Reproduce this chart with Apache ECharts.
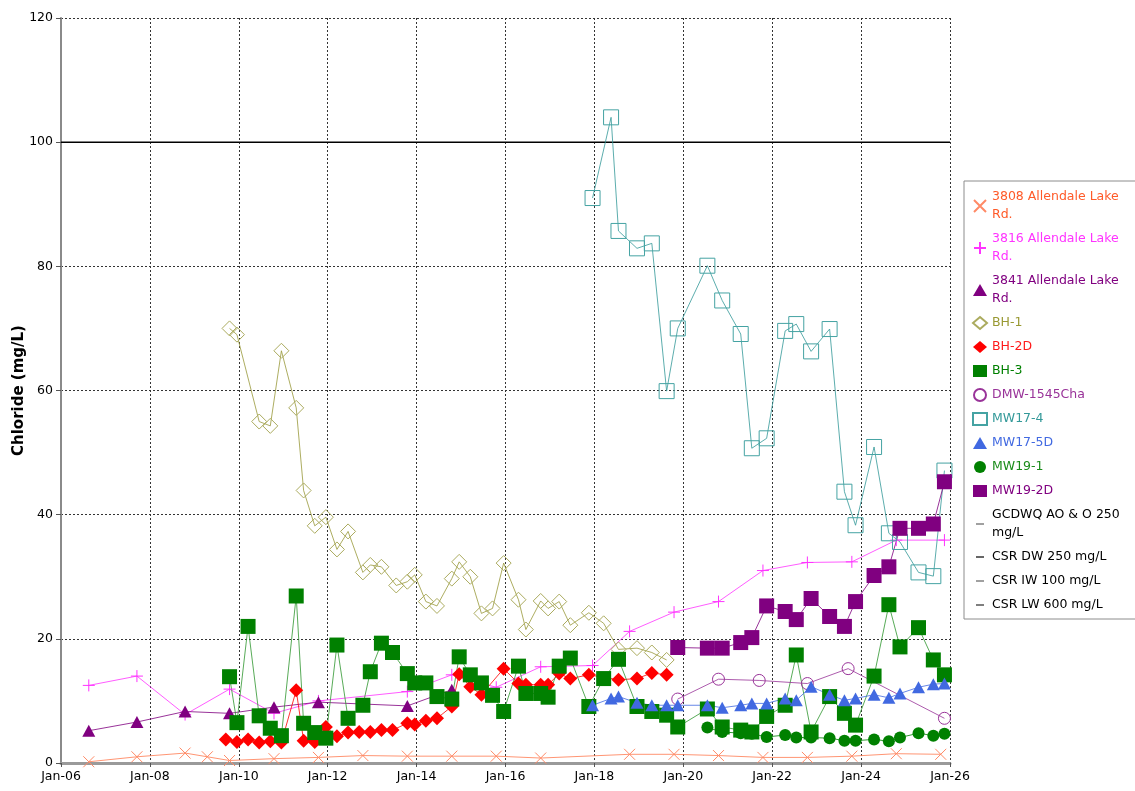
<!DOCTYPE html>
<html>
<head>
<meta charset="utf-8">
<script src="https://cdn.jsdelivr.net/npm/echarts@6/dist/echarts.min.js"></script>
<style>
  html, body { margin: 0; padding: 0; background: #fff; }
  #chart { width: 1135px; height: 791px; }
</style>
</head>
<body>
<div id="chart"></div>
<script>
// ---- Sampling dates (YYYY-MM) and chloride results (mg/L) per monitoring location ----
const dates3808 = ['2006-08','2007-09','2008-10','2009-04','2009-10','2010-10','2011-10','2012-10','2013-10','2014-10','2015-10','2016-10','2018-10','2019-10','2020-10','2021-10','2022-10','2023-10','2024-10','2025-10'];
const cl3808    = [0.2, 1.0, 1.6, 1.0, 0.4, 0.7, 0.9, 1.2, 1.1, 1.1, 1.1, 0.8, 1.4, 1.4, 1.2, 0.9, 0.9, 1.1, 1.5, 1.4];

const dates3816 = ['2006-08','2007-09','2008-10','2009-10','2010-10','2011-10','2013-10','2014-10','2015-10','2016-10','2017-12','2018-10','2019-10','2020-10','2021-10','2022-10','2023-10','2024-10','2025-11'];
const cl3816    = [12.5, 14.0, 7.8, 11.9, 8.0, 10.0, 11.5, 14.2, 12.2, 15.5, 15.7, 21.2, 24.3, 26.0, 31.0, 32.3, 32.4, 35.9, 35.9];

const dates3841 = ['2006-08','2007-09','2008-10','2009-10','2010-10','2011-10','2013-10','2014-10'];
const cl3841    = [5.2, 6.6, 8.3, 8.0, 9.0, 9.8, 9.2, 11.8];

const datesBH1 = ['2009-10','2009-12','2010-06','2010-09','2010-12','2011-04','2011-06','2011-09','2011-12','2012-03','2012-06','2012-10','2012-12','2013-03','2013-07','2013-10','2013-12','2014-03','2014-06','2014-10','2014-12','2015-03','2015-06','2015-09','2015-12','2016-04','2016-06','2016-10','2016-12','2017-03','2017-06','2017-11','2018-03','2018-07','2018-12','2019-04','2019-08'];
const clBH1    = [70.0, 69.0, 55.0, 54.3, 66.4, 57.2, 43.9, 38.2, 39.6, 34.4, 37.3, 30.7, 31.9, 31.6, 28.6, 29.2, 30.3, 26.0, 25.3, 29.7, 32.4, 30.0, 24.1, 24.9, 32.2, 26.3, 21.5, 26.1, 24.9, 26.0, 22.2, 24.2, 22.5, 18.3, 18.5, 17.8, 16.6];

const datesBH2D = ['2009-09','2009-12','2010-03','2010-06','2010-09','2010-12','2011-04','2011-06','2011-09','2011-12','2012-03','2012-06','2012-09','2012-12','2013-03','2013-06','2013-10','2013-12','2014-03','2014-06','2014-10','2014-12','2015-03','2015-06','2015-12','2016-04','2016-06','2016-10','2016-12','2017-03','2017-06','2017-11','2018-07','2018-12','2019-04','2019-08'];
const clBH2D    = [3.8, 3.4, 3.8, 3.3, 3.5, 3.3, 11.7, 3.6, 3.4, 5.8, 4.3, 4.9, 5.0, 5.0, 5.3, 5.3, 6.4, 6.2, 6.8, 7.2, 9.1, 14.3, 12.3, 11.0, 15.2, 12.8, 12.6, 12.6, 12.6, 14.4, 13.6, 14.2, 13.4, 13.6, 14.5, 14.2];

const datesBH3 = ['2009-10','2009-12','2010-03','2010-06','2010-09','2010-12','2011-04','2011-06','2011-09','2011-12','2012-03','2012-06','2012-10','2012-12','2013-03','2013-06','2013-10','2013-12','2014-03','2014-06','2014-10','2014-12','2015-03','2015-06','2015-09','2015-12','2016-04','2016-06','2016-10','2016-12','2017-03','2017-06','2017-11','2018-03','2018-07','2018-12','2019-04','2019-08','2019-11','2020-07','2020-11','2021-04','2021-07','2021-11','2022-04','2022-07','2022-11','2023-04','2023-08','2023-11','2024-04','2024-08','2024-11','2025-04','2025-08','2025-11'];
const clBH3    = [13.9, 6.5, 22.0, 7.6, 5.6, 4.4, 26.9, 6.4, 4.9, 4.0, 19.0, 7.2, 9.3, 14.7, 19.3, 17.8, 14.4, 12.9, 12.9, 10.7, 10.3, 17.1, 14.2, 12.9, 10.9, 8.3, 15.6, 11.2, 11.2, 10.6, 15.6, 16.9, 9.1, 13.6, 16.7, 9.1, 8.3, 7.7, 5.8, 8.7, 5.8, 5.3, 5.0, 7.5, 9.3, 17.4, 5.0, 10.7, 8.0, 6.1, 14.0, 25.5, 18.7, 21.8, 16.6, 14.2];

const datesDMW = ['2019-11','2020-10','2021-09','2022-10','2023-09','2025-11'];
const clDMW    = [10.3, 13.5, 13.3, 12.8, 15.2, 7.2];

const datesMW = ['2017-12','2018-05','2018-07','2018-12','2019-04','2019-08','2019-11','2020-07','2020-11','2021-04','2021-07','2021-11','2022-04','2022-07','2022-11','2023-04','2023-08','2023-11','2024-04','2024-08','2024-11','2025-04','2025-08','2025-11'];
const clMW174  = [91.0, 104.0, 85.7, 82.9, 83.7, 59.9, 70.0, 80.1, 74.5, 69.1, 50.7, 52.3, 69.6, 70.7, 66.3, 69.9, 43.7, 38.3, 50.9, 37.0, 35.6, 30.7, 30.1, 47.1];
const clMW175D = [9.3, 10.4, 10.7, 9.7, 9.3, 9.3, 9.3, 9.3, 8.9, 9.3, 9.6, 9.6, 10.4, 10.1, 12.3, 11.0, 10.1, 10.4, 11.0, 10.5, 11.2, 12.2, 12.7, 12.8];

const datesMW19 = ['2019-11','2020-07','2020-11','2021-04','2021-07','2021-11','2022-04','2022-07','2022-11','2023-04','2023-08','2023-11','2024-04','2024-08','2024-11','2025-04','2025-08','2025-11'];
const clMW191   = [null, 5.7, 5.0, 4.8, 4.7, 4.2, 4.5, 4.1, 4.1, 4.0, 3.6, 3.6, 3.8, 3.5, 4.1, 4.8, 4.4, 4.7];
const clMW192D  = [18.6, 18.5, 18.5, 19.4, 20.2, 25.3, 24.4, 23.1, 26.5, 23.6, 22.0, 26.0, 30.2, 31.6, 37.8, 37.8, 38.5, 45.3];

// Guideline values (mg/L)
const guideNames  = ['GCDWQ AO & O 250 mg/L', 'CSR DW 250 mg/L', 'CSR IW 100 mg/L', 'CSR LW 600 mg/L'];
const guideValues = [250, 250, 100, 600];

// Axis ranges and ticks
const yearStart = 2006, yearEnd = 2026, yearStep = 2;
const yMin = 0, yMax = 120, yStep = 20;

// ---- helpers ----
function toYear(d) {
  const [y, m] = d.split('-').map(Number);
  return y + (m - 0.5) / 12;
}
function pairs(dates, vals) {
  return dates.map((d, i) => [toYear(d), vals[i]]).filter(p => p[1] !== null);
}

const X_PATH = 'path://M0,0L10,10M10,0L0,10';
const PLUS_PATH = 'path://M5,0L5,10M0,5L10,5';
const DASH_PATH = 'path://M0,0M12,12M2,5.25H10V6.75H2Z';
const CLEAR = 'rgba(0,0,0,0)';

function site(name, data, opt) {
  return {
    name: name,
    type: 'line',
    data: data,
    symbol: opt.symbol,
    symbolSize: opt.size,
    showAllSymbol: true,
    color: opt.color,
    lineStyle: { color: opt.line || opt.color, width: 1, opacity: opt.lineOpacity || 0.8 },
    itemStyle: opt.hollow
      ? { color: CLEAR, borderColor: opt.color, borderWidth: 1 }
      : { color: opt.color },
    emphasis: { disabled: true },
    z: 3
  };
}

const series = [
  site('3808 Allendale Lake Rd.', pairs(dates3808, cl3808), { symbol: X_PATH, size: 11, color: '#FF8A66', line: '#FF7A50', hollow: true }),
  site('3816 Allendale Lake Rd.', pairs(dates3816, cl3816), { symbol: PLUS_PATH, size: 12, color: '#FF33FF', hollow: true }),
  site('3841 Allendale Lake Rd.', pairs(dates3841, cl3841), { symbol: 'triangle', size: [13, 12], color: '#800080' }),
  site('BH-1', pairs(datesBH1, clBH1), { symbol: 'diamond', size: 15, color: '#ABAB5E', line: '#99993A', hollow: true }),
  site('BH-2D', pairs(datesBH2D, clBH2D), { symbol: 'diamond', size: 14, color: '#FF0000' }),
  site('BH-3', pairs(datesBH3, clBH3), { symbol: 'rect', size: 15, color: '#008000', line: '#2E962E' }),
  site('DMW-1545Cha', pairs(datesDMW, clDMW), { symbol: 'circle', size: 12, color: '#993399', hollow: true }),
  site('MW17-4', pairs(datesMW, clMW174), { symbol: 'rect', size: 15, color: '#45A3A3', line: '#339999', hollow: true }),
  site('MW17-5D', pairs(datesMW, clMW175D), { symbol: 'triangle', size: [13, 12], color: '#4169E1' }),
  site('MW19-1', pairs(datesMW19, clMW191), { symbol: 'circle', size: 12, color: '#008000' }),
  site('MW19-2D', pairs(datesMW19, clMW192D), { symbol: 'rect', size: 15, color: '#800080' })
];

const guideColors = ['#808080', '#333333', '#000000', '#555555'];
guideNames.forEach((n, i) => {
  series.push({
    name: n,
    type: 'line',
    data: [[yearStart, guideValues[i]], [yearEnd, guideValues[i]]],
    symbol: 'none',
    color: guideColors[i],
    lineStyle: { color: guideColors[i], width: 1.5 },
    emphasis: { disabled: true },
    z: 2
  });
});

// legend text colours and wrapped labels
const legendText = {
  '3808 Allendale Lake Rd.': ['3808 Allendale Lake\nRd.', '#FF5A28'],
  '3816 Allendale Lake Rd.': ['3816 Allendale Lake\nRd.', '#FF33FF'],
  '3841 Allendale Lake Rd.': ['3841 Allendale Lake\nRd.', '#800080'],
  'BH-1': ['BH-1', '#999933'],
  'BH-2D': ['BH-2D', '#FF1A1A'],
  'BH-3': ['BH-3', '#008000'],
  'DMW-1545Cha': ['DMW-1545Cha', '#993399'],
  'MW17-4': ['MW17-4', '#339999'],
  'MW17-5D': ['MW17-5D', '#4169E1'],
  'MW19-1': ['MW19-1', '#1A8C1A'],
  'MW19-2D': ['MW19-2D', '#800080'],
  'GCDWQ AO & O 250 mg/L': ['GCDWQ AO & O 250\nmg/L', '#000000'],
  'CSR DW 250 mg/L': ['CSR DW 250 mg/L', '#000000'],
  'CSR IW 100 mg/L': ['CSR IW 100 mg/L', '#000000'],
  'CSR LW 600 mg/L': ['CSR LW 600 mg/L', '#000000']
};

const legendData = series.map(s => {
  const item = { name: s.name, textStyle: { color: legendText[s.name][1] } };
  if (s.symbol === 'none') {
    item.icon = DASH_PATH;
    item.itemStyle = { color: s.name === 'CSR IW 100 mg/L' ? '#808080' : s.color, borderWidth: 0 };
  } else {
    item.icon = s.symbol;
  }
  return item;
});

const chart = echarts.init(document.getElementById('chart'), null, { renderer: 'canvas' });
chart.setOption({
  animation: false,
  backgroundColor: '#ffffff',
  textStyle: { fontFamily: 'DejaVu Sans' },
  grid: { left: 61, right: 185, top: 18, bottom: 28, containLabel: false, outerBoundsMode: 'none' },
  xAxis: {
    type: 'value',
    min: yearStart, max: yearEnd, interval: yearStep,
    axisLine: { lineStyle: { color: '#9a9a9a', width: 3 } },
    axisTick: { show: true, length: 4, lineStyle: { color: '#555' } },
    axisLabel: {
      margin: 7, color: '#000', fontSize: 12.5, fontFamily: 'DejaVu Sans',
      formatter: v => 'Jan-' + String(v).slice(2)
    },
    splitLine: { show: true, lineStyle: { color: '#333', type: [2, 2], width: 1 } }
  },
  yAxis: {
    type: 'value',
    min: yMin, max: yMax, interval: yStep,
    name: 'Chloride (mg/L)',
    nameLocation: 'middle',
    nameGap: 34,
    nameMoveOverlap: false,
    nameTextStyle: { fontWeight: 'bold', fontSize: 15, color: '#000', fontFamily: 'DejaVu Sans' },
    axisLine: { show: true, lineStyle: { color: '#8a8a8a', width: 2 } },
    axisTick: { show: true, length: 5, lineStyle: { color: '#555' } },
    axisLabel: { margin: 8, color: '#000', fontSize: 12.5, fontFamily: 'DejaVu Sans' },
    splitLine: { show: true, lineStyle: { color: '#333', type: [2, 2], width: 1 } }
  },
  legend: {
    orient: 'vertical',
    left: 964, top: 181,
    padding: [7, 18, 5, 8],
    backgroundColor: '#fff',
    borderColor: '#8c8c8c',
    borderWidth: 1,
    itemWidth: 14, itemHeight: 12,
    itemGap: 6,
    selectedMode: false,
    textStyle: { fontSize: 12.5, lineHeight: 18, fontFamily: 'DejaVu Sans' },
    formatter: name => legendText[name][0],
    data: legendData
  },
  series: series
});
</script>
</body>
</html>
